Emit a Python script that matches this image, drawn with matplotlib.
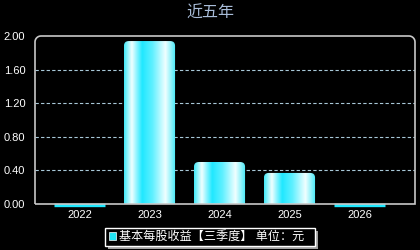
import matplotlib.pyplot as plt
import numpy as np
from matplotlib.patches import FancyBboxPatch, Rectangle, PathPatch
from matplotlib.path import Path
from matplotlib.colors import LinearSegmentedColormap

plt.rcParams['font.family'] = ['Liberation Sans', 'Noto Sans CJK SC', 'DejaVu Sans']

years = ['2022', '2023', '2024', '2025', '2026']
eps = [0.0, 1.94, 0.50, 0.37, 0.0]
yticks = [0.0, 0.4, 0.8, 1.2, 1.6, 2.0]
title = '近五年'
legend_label = '基本每股收益【三季度】 单位：元'

fig = plt.figure(figsize=(4.2, 2.5), dpi=100, facecolor='black')
ax = fig.add_axes([35/420, 46/250, 380/420, 168/250], facecolor='black')
ax.set_xlim(-0.636, 4.793)
ax.set_ylim(0, 2.0)
for s in ax.spines.values():
    s.set_visible(False)

# grid
for v in yticks[1:-1]:
    ax.axhline(v, color='#a8c8d8', lw=0.8, ls=(0, (3, 2)), zorder=1)

# gradient bars
cmap = LinearSegmentedColormap.from_list('bar', [
    (0.0, '#40e8f8'), (0.15, '#f0ffff'), (0.35, '#20e8ff'),
    (0.55, '#60f0ff'), (0.8, '#f0ffff'), (1.0, '#40e8f8')])
grad = np.linspace(0, 1, 256).reshape(1, -1)
w = 0.73
bars = ax.bar(range(len(years)), eps, width=w, color='none')
for b, v in zip(bars, eps):
    x0 = b.get_x()
    if v <= 0:
        ax.plot([x0, x0 + w], [-0.014, -0.014], color='#1ee8ff', lw=2.4,
                clip_on=False, solid_capstyle='butt', zorder=2)
        continue
    patch = FancyBboxPatch((x0, -0.2), w, v + 0.2,
                           boxstyle='round,pad=0,rounding_size=0.07',
                           mutation_aspect=0.8, fc='none', ec='none')
    ax.add_patch(patch)
    im = ax.imshow(grad, cmap=cmap, aspect='auto',
                   extent=(x0, x0 + w, 0, v), zorder=3)
    im.set_clip_path(patch)

# frame with rounded top corners
rx, ry = 6/380, 6/168
t = np.linspace(0, np.pi/2, 10)
pts = [(0, 0), (0, 1 - ry)]
pts += [(rx - rx*np.cos(a), 1 - ry + ry*np.sin(a)) for a in t]
pts += [(1 - rx + rx*np.sin(a), 1 - ry + ry*np.cos(a)) for a in t]
pts += [(1, 0), (0, 0)]
ax.add_patch(PathPatch(Path(pts), transform=ax.transAxes, fc='none',
                       ec='#c8c8c8', lw=1.2, clip_on=False, zorder=5))

ax.set_xticks(range(len(years)))
ax.set_xticklabels(years)
ax.set_yticks(yticks)
ax.set_yticklabels(['%.2f' % v for v in yticks])
ax.tick_params(length=0, colors='white', labelsize=8)
ax.tick_params(axis='x', pad=4)
ax.tick_params(axis='y', pad=7)

fig.text(0.5, 1 - 13/250, title, color='#a8bcd8', fontsize=11.5,
         ha='center', va='center')

# legend
fig.patches.append(Rectangle((108/420, 1 - 249/250), 210/420, 18/250,
                             transform=fig.transFigure, fc='#a0a0a0', ec='none'))
fig.patches.append(Rectangle((105/420, 1 - 246/250), 210/420, 18/250,
                             transform=fig.transFigure, fc='black', ec='white', lw=1))
fig.patches.append(Rectangle((109/420, 1 - 240/250), 7/420, 8/250,
                             transform=fig.transFigure, fc='#22e4f4', ec='white', lw=0.5))
fig.text(119/420, 1 - 237/250, legend_label, color='white', fontsize=8.7,
         ha='left', va='center')

fig.savefig('out.png', dpi=100, facecolor='black')
